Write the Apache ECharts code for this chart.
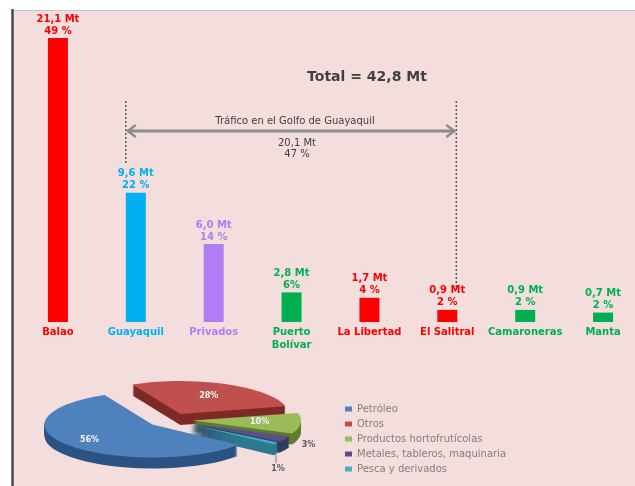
<!DOCTYPE html>
<html><head><meta charset="utf-8">
<script src="https://cdn.jsdelivr.net/npm/echarts@6/dist/echarts.min.js"></script>
<style>html,body{margin:0;padding:0;background:#fff}#c{width:635px;height:486px}</style>
</head><body><div id="c"></div>
<script>
// ---- data ----
const categories = ['Balao','Guayaquil','Privados','Puerto\nBolívar','La Libertad','El Salitral','Camaroneras','Manta'];
const tonnage = [21.1, 9.6, 5.8, 2.2, 1.8, 0.9, 0.9, 0.7];
const tonnageLabels = ['21,1 Mt','9,6 Mt','6,0 Mt','2,8 Mt','1,7 Mt','0,9 Mt','0,9 Mt','0,7 Mt'];
const shareLabels = ['49 %','22 %','14 %','6%','4 %','2 %','2 %','2 %'];
const cargoTypes = ['Petróleo','Otros','Productos hortofrutícolas','Metales, tableros, maquinaria','Pesca y derivados'];
const cargoShares = [56, 28, 10, 3, 1];
const totalText = 'Total = 42,8 Mt';
const gulfText = 'Tráfico en el Golfo de Guayaquil';
const gulfValue = '20,1 Mt';
const gulfShare = '47 %';

// ---- styles ----
const barColors = ['#ff0000','#00b0f0','#b07ef2','#00b050','#ff0000','#ff0000','#00b050','#00b050'];
const cargoColors = ['#4f81bd','#c0504d','#9bbb59','#5a4f86','#4bacc6'];
const cargoSides = ['#2b5383','#7e2a27','#617b2c','#2f3e60','#2b7a90'];
const FONT = 'DejaVu Sans';

const chart = echarts.init(document.getElementById('c'), null, {renderer:'canvas'});

const pieTotal = cargoShares.reduce((a,b)=>a+b,0);
let acc = 38*Math.PI/180;
const sliceAngles = cargoShares.map(v=>{const a0=acc; acc += v/pieTotal*2*Math.PI; return [a0, acc];});

function sliceRender(i){
  return function(params, api){
    const cx=171, cy=420, rx=108, s=0.305, depth=11, gap=i===0?24:22;
    const a0 = sliceAngles[i][0], a1 = sliceAngles[i][1];
    const mid=(a0+a1)/2;
    const ox = Math.cos(mid)*gap, oy = Math.sin(mid)*gap*s;
    const children=[];
    for (let k=depth;k>=1;k--){
      children.push({type:'sector', x:ox, y:oy+k, originX:cx, originY:cy, scaleY:s,
        shape:{cx:cx, cy:cy, r:rx, r0:0, startAngle:a0, endAngle:a1, clockwise:true},
        style:{fill:cargoSides[i]}});
    }
    children.push({type:'sector', x:ox, y:oy, originX:cx, originY:cy, scaleY:s,
      shape:{cx:cx, cy:cy, r:rx, r0:0, startAngle:a0, endAngle:a1, clockwise:true},
      style:{fill:cargoColors[i]}});
    const val = api.value(0);
    let lx, ly, col = '#f2f2f2';
    if (i < 3) {
      const f = i===0 ? 0.75 : 0.62;
      lx = cx+ox+Math.cos(mid)*f*rx; ly = cy+oy+Math.sin(mid)*f*rx*s;
    } else if (i===3) {
      lx = cx+ox+Math.cos(mid)*1.25*rx; ly = cy+oy+Math.sin(mid)*1.25*rx*s + 2;
      col = '#595959';
    } else {
      const ex = cx+ox+Math.cos(mid)*rx, ey = cy+oy+Math.sin(mid)*rx*s + depth;
      children.push({type:'line', shape:{x1:ex, y1:ey, x2:ex, y2:ey+9}, style:{stroke:'#7f7f7f', lineWidth:1}});
      lx = ex+2; ly = ey+15; col = '#595959';
    }
    children.push({type:'text', x:lx, y:ly, style:{text: val+'%', fill:col, fontSize:8, fontWeight:'bold', fontFamily:FONT, align:'center', verticalAlign:'middle'}});
    return {type:'group', children};
  };
}

const zOrder = [6,2,3,4,5];
const pieSeries = cargoTypes.map((name,i)=>({
  type:'custom', name:name, coordinateSystem:'none', z: zOrder[i],
  itemStyle:{color:cargoColors[i]},
  data:[[cargoShares[i]]],
  renderItem: sliceRender(i),
  silent:true
}));

const option = {
  animation:false,
  backgroundColor:'#ffffff',
  grid:{left:19, width:623, top:26, bottom:164, containLabel:false, outerBoundsMode:'none'},
  xAxis:{type:'category', data:categories,
    axisLine:{show:false}, axisTick:{show:false},
    axisLabel:{interval:0, margin:4, fontFamily:FONT, fontWeight:'bold', fontSize:10, lineHeight:13,
      color:(v,i)=>barColors[i]}},
  yAxis:{type:'value', min:0, max:22, show:false, splitLine:{show:false}},
  legend:{data:cargoTypes, orient:'vertical', left:340, top:399, itemWidth:7, itemHeight:5, itemGap:5,
    icon:'rect', selectedMode:false,
    textStyle:{fontSize:10, color:'#7f7f7f', fontFamily:FONT}},
  series:[{
    type:'bar', name:'Tráfico', barWidth:20, z:3,
    data: tonnage.map((v,i)=>({value:v, itemStyle:{color:barColors[i]}, label:{color:barColors[i]}})),
    label:{show:true, position:'top', distance:1, fontFamily:FONT, fontWeight:'bold', fontSize:10, lineHeight:12,
      formatter:p=>tonnageLabels[p.dataIndex]+'\n'+shareLabels[p.dataIndex]}
  }].concat(pieSeries)
};
chart.setOption(option);

const pG = chart.convertToPixel({xAxisIndex:0}, categories[1]);
const pS = chart.convertToPixel({xAxisIndex:0}, categories[5]);
const xl = pG - 10, xr = pS + 9;
const arrowY = 131;
chart.setOption({graphic:[
  {type:'rect', z:-10, silent:true, shape:{x:13, y:10, width:640, height:490}, style:{fill:'#f3dedd'}},
  {type:'line', z:-9, silent:true, shape:{x1:13, y1:10.5, x2:635, y2:10.5}, style:{stroke:'#c4c4c4', lineWidth:1}},
  {type:'line', z:100, silent:true, shape:{x1:12.5, y1:9, x2:12.5, y2:486}, style:{stroke:'#4a4a4a', lineWidth:2.5}},
  {type:'text', z:100, silent:true, x:367, y:77, style:{text:totalText, fill:'#404040', fontSize:14, fontWeight:'bold', fontFamily:FONT, align:'center', verticalAlign:'middle'}},
  {type:'line', z:100, silent:true, shape:{x1:xl, y1:101, x2:xl, y2:163}, style:{stroke:'#595959', lineWidth:1.5, lineDash:[2,2]}},
  {type:'line', z:100, silent:true, shape:{x1:xr, y1:101, x2:xr, y2:290}, style:{stroke:'#595959', lineWidth:1.5, lineDash:[2,2]}},
  {type:'line', z:100, silent:true, shape:{x1:xl+2, y1:arrowY, x2:xr-2, y2:arrowY}, style:{stroke:'#8c8c8c', lineWidth:3}},
  {type:'polyline', z:100, silent:true, shape:{points:[[xl+10,arrowY-6],[xl+2,arrowY],[xl+10,arrowY+6]]}, style:{stroke:'#8c8c8c', lineWidth:2.5, fill:null}},
  {type:'polyline', z:100, silent:true, shape:{points:[[xr-10,arrowY-6],[xr-2,arrowY],[xr-10,arrowY+6]]}, style:{stroke:'#8c8c8c', lineWidth:2.5, fill:null}},
  {type:'text', z:100, silent:true, x:295, y:121, style:{text:gulfText, fill:'#404040', fontSize:10, fontFamily:FONT, align:'center', verticalAlign:'middle'}},
  {type:'text', z:100, silent:true, x:297, y:143, style:{text:gulfValue, fill:'#404040', fontSize:10, fontFamily:FONT, align:'center', verticalAlign:'middle'}},
  {type:'text', z:100, silent:true, x:297, y:154, style:{text:gulfShare, fill:'#404040', fontSize:10, fontFamily:FONT, align:'center', verticalAlign:'middle'}}
]});
</script>
</body></html>
